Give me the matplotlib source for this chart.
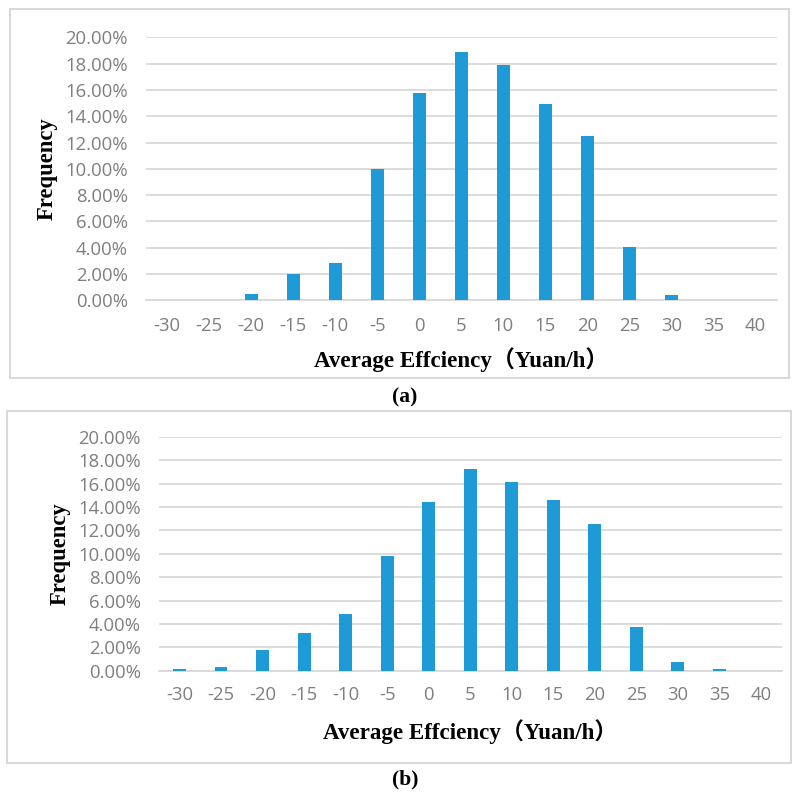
import numpy as np
import matplotlib.pyplot as plt
from matplotlib.patches import Rectangle
from matplotlib.ticker import PercentFormatter

# efficiency bins (Yuan/h)
bins = ["-30", "-25", "-20", "-15", "-10", "-5", "0", "5", "10", "15", "20", "25", "30", "35", "40"]
# frequencies in percent
freq_a = [0.0, 0.0, 0.45, 2.02, 2.85, 9.96, 15.75, 18.9, 17.9, 14.9, 12.47, 4.05, 0.4, 0.0, 0.0]
freq_b = [0.17, 0.31, 1.8, 3.25, 4.85, 9.85, 14.4, 17.24, 16.15, 14.64, 12.58, 3.7, 0.77, 0.15, 0.0]

W, H = 792, 795
bar_col = "#1E9BD7"
grid_col = "#D9D9D9"
tick_col = "#7F7F7F"
tick_font = "Open Sans"
label_font = ["Liberation Serif", "Noto Sans CJK SC"]

fig = plt.figure(figsize=(W / 100, H / 100), dpi=100)

def px_rect(x0, y0, x1, y1):
    # pixel box -> figure fraction [left, bottom, width, height]
    return [x0 / W, 1 - y1 / H, (x1 - x0) / W, (y1 - y0) / H]

def panel(box, border, vals, tickpad_x, ylab_x, xlab_y, cap, cap_y):
    l, b, w, h = px_rect(*border)
    fig.patches.append(Rectangle((l, b), w, h, transform=fig.transFigure,
                                 fill=False, edgecolor=grid_col, linewidth=1.5))
    ax = fig.add_axes(px_rect(*box))
    x = np.arange(len(bins))
    ax.bar(x, np.array(vals) / 100, width=0.31, color=bar_col, zorder=3)
    ax.set_xlim(-0.5, len(bins) - 0.5)
    ax.set_ylim(0, 0.20)
    ax.set_yticks(np.arange(0, 0.201, 0.02))
    ax.yaxis.set_major_formatter(PercentFormatter(1.0, decimals=2))
    ax.set_xticks(x)
    ax.set_xticklabels(bins)
    ax.grid(axis="y", color=grid_col, linewidth=1.3, zorder=0)
    for s in ["top", "right", "left"]:
        ax.spines[s].set_visible(False)
    ax.spines["bottom"].set_color(grid_col)
    ax.spines["bottom"].set_linewidth(1.3)
    ax.tick_params(axis="both", length=0, colors=tick_col, labelsize=13.3)
    ax.tick_params(axis="y", pad=13)
    ax.tick_params(axis="x", pad=tickpad_x)
    for t in ax.get_xticklabels() + ax.get_yticklabels():
        t.set_fontfamily(tick_font)
    fig.text(ylab_x / W, 1 - (box[1] + box[3]) / 2 / H, "Frequency", rotation=90,
             ha="center", va="center", fontsize=16.3, fontweight="bold", family=label_font)
    fig.text((box[0] + box[2]) / 2 / W, 1 - xlab_y / H, "Average Effciency（Yuan/h）",
             ha="center", va="center", fontsize=16.6, fontweight="bold", family=label_font)
    fig.text(405 / W, 1 - cap_y / H, cap, ha="center", va="center",
             fontsize=15.5, fontweight="bold", family=label_font)
    return ax

panel((146, 37.3, 776.7, 300.3), (10, 9.3, 789, 378), freq_a, 12, 47, 360, "(a)", 397)
panel((158.7, 437, 781.7, 670.7), (6.7, 410.7, 791, 763), freq_b, 11, 60, 731.7, "(b)", 779)

fig.savefig("out.png", dpi=100)
